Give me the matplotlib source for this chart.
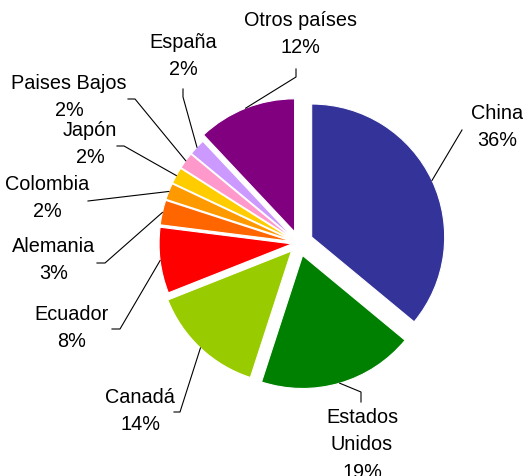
import numpy as np
import matplotlib
matplotlib.use("Agg")
import matplotlib.pyplot as plt

# Export shares (%), clockwise from the top
countries = ["China", "Estados\nUnidos", "Canadá", "Ecuador", "Alemania",
             "Colombia", "Japón", "Paises Bajos", "España", "Otros países"]
shares = [36, 19, 14, 8, 3, 2, 2, 2, 2, 12]
colors = ["#333399", "#008000", "#99CC00", "#FF0000", "#FF6600",
          "#FF9900", "#FFCC00", "#FF99CC", "#CC99FF", "#800080"]

W, H = 523, 476
CX, CY, R = 299, H - 243, 133
explode = [14, 13, 11, 7, 7, 7, 7, 7, 7, 12]

# label block centres and leader-line elbows, in pixel coords (y down)
label_pos = [(497, 127), (362, 445), (140, 411), (72, 328), (54, 260),
             (47, 198), (90, 144), (69, 97), (183, 56), (300, 34)]
elbows = [[(462, 130)], [(361, 392), (361, 402)], [(180, 412), (174, 412)],
          [(120, 329), (112, 329)], [(105, 263), (97, 263)], [(88, 201)],
          [(124, 146), (117, 146)], [(135, 99), (128, 99)],
          [(183, 97), (183, 89)], [(296, 77), (296, 69)]]

plt.rcParams['font.family'] = ['Liberation Sans', 'DejaVu Sans']

fig = plt.figure(figsize=(W / 100, H / 100), dpi=100)
ax = fig.add_axes([0, 0, 1, 1])
wedges, _ = ax.pie(shares, colors=colors, startangle=90, counterclock=False,
                   center=(CX, CY), radius=R, explode=explode,
                   wedgeprops=dict(edgecolor="white", linewidth=0.8))
ax.set_xlim(0, W)
ax.set_ylim(0, H)
ax.set_aspect("equal")
ax.axis("off")

for w, name, val, (lx, ly), pts in zip(wedges, countries, shares, label_pos, elbows):
    mid = np.deg2rad((w.theta1 + w.theta2) / 2)
    x0 = w.center[0] + w.r * np.cos(mid)
    y0 = w.center[1] + w.r * np.sin(mid)
    xs = [x0] + [p[0] for p in pts]
    ys = [y0] + [H - p[1] for p in pts]
    ax.plot(xs, ys, color="black", lw=0.8)
    ax.text(lx, H - ly, f"{name}\n{val}%", ha="center", va="center",
            multialignment="center", fontsize=14.3, linespacing=1.55)

fig.savefig("out.png", dpi=100)
